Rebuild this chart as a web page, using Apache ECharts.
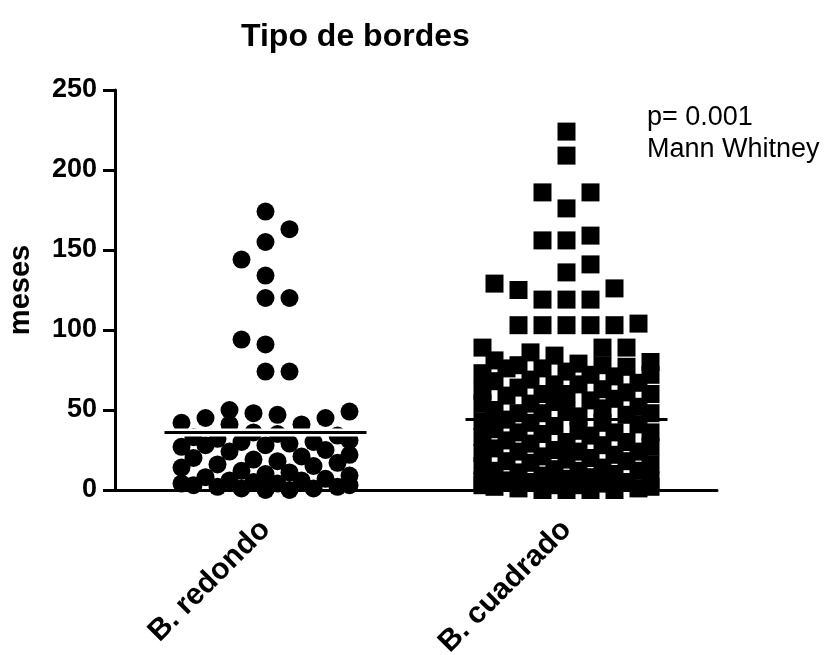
<!DOCTYPE html>
<html><head><meta charset="utf-8">
<script src="https://cdn.jsdelivr.net/npm/echarts@6/dist/echarts.min.js"></script>
<style>html,body{margin:0;padding:0;background:#fff}#c{width:830px;height:655px}</style>
</head><body><div id="c"></div>
<script>
// ---- data ----
const categories = ['B. redondo', 'B. cuadrado'];
const yTicks = [0, 50, 100, 150, 200, 250];
const redondo = [174, 163, 155, 144, 134, 120, 120, 94, 91, 74, 74,
  50, 49, 48, 47, 45, 45, 42, 41, 41,
  36, 35, 34, 33, 32, 31, 30, 30, 29, 28, 28, 27,
  25, 24, 22, 21, 20, 19, 18, 17, 16, 15, 14,
  12, 11, 10, 9, 8, 7, 6, 6, 5, 4, 4, 3, 3, 2, 2, 1, 1, 0, 0];
const cuadrado = [224, 209, 186, 186, 176, 159, 156, 156, 141, 136, 129, 126, 125, 119, 119, 119,
  104, 103, 103, 103, 103, 103, 89, 89, 89, 86, 84,
  81, 80, 79, 78, 78, 77, 76, 76,
  74, 73, 72, 72, 71, 69, 68, 67, 66, 66, 64, 63, 62, 61, 60, 60, 60, 59, 57, 56, 55, 54, 54,
  52, 51, 50, 49, 48, 48, 48, 47, 46, 44, 43, 42, 42, 41, 40, 38, 37, 36, 36, 36, 35, 34,
  33, 31, 30, 30, 29, 28, 27, 26, 25, 24, 24, 24, 23, 22, 21, 20, 19, 18, 18, 17,
  16, 15, 14, 13, 12, 12, 12, 11, 10, 9, 8, 7, 6, 6, 6, 5, 5, 4, 3, 3, 3, 2, 2, 1, 1, 0, 0, 0, 0];
const centralLines = [36, 44];
const titleText = 'Tipo de bordes';
const yName = 'meses';
const noteLines = ['p= 0.001', 'Mann Whitney'];

// ---- layout ----
const W = 830, H = 655;
const GRID = { left: 115, right: 113, top: 90, bottom: 165 };
const gw = W - GRID.left - GRID.right, gh = H - GRID.top - GRID.bottom;
const yMin = 0, yMax = 250;
const pxPerY = gh / (yMax - yMin);
const pxPerX = gw / 2;          // hidden value x axis spans -0.5 .. 1.5
const SYM = 18, STEP = 24, MAXOFF = 3.5, HALF_LINE = 101;

// Column-scatter layout: place each point at the free horizontal slot nearest the centre
function swarm(values) {
  const sorted = values.slice().sort((a, b) => a - b);
  const placed = [];
  const cands = [0];
  for (let k = 0.5; k <= MAXOFF; k += 0.5) cands.push(k, -k);
  let flip = false;
  sorted.forEach(v => {
    let best = 0, bestCost = Infinity;
    const order = flip ? cands.map(c => -c) : cands;
    for (const c of order) {
      let cost = 0;
      for (const p of placed) {
        const dx = Math.abs(c - p.o) * STEP, dy = Math.abs(v - p.v) * pxPerY;
        if (dx < SYM && dy < SYM) cost += (SYM - dx) * (SYM - dy);
      }
      if (cost < bestCost - 1e-9) { best = c; bestCost = cost; }
    }
    if (best !== 0) flip = !flip;
    placed.push({ v, o: best });
  });
  return placed;
}
function toData(values, idx) {
  return swarm(values).map(p => [idx + p.o * STEP / pxPerX, p.v]);
}
function lineData(idx) {
  const h = HALF_LINE / pxPerX;
  return [[idx - h, centralLines[idx]], [idx + h, centralLines[idx]]];
}

const font = 'Liberation Sans, Arial, sans-serif';
const chart = echarts.init(document.getElementById('c'), null, { renderer: 'canvas' });
chart.setOption({
  animation: false,
  backgroundColor: '#fff',
  title: { text: titleText, left: 236, top: 16,
    textStyle: { fontFamily: font, fontWeight: 'bold', fontSize: 32, color: '#000' } },
  grid: Object.assign({ containLabel: false, outerBoundsMode: 'none' }, GRID),
  xAxis: [
    { type: 'category', data: categories, position: 'bottom',
      axisLine: { onZero: false, lineStyle: { color: '#000', width: 3 } },
      axisTick: { show: false },
      axisLabel: { rotate: 45, margin: 35, color: '#000', fontFamily: font, fontWeight: 'bold', fontSize: 30 },
      splitLine: { show: false } },
    { type: 'value', min: -0.5, max: 1.5, show: false }
  ],
  yAxis: {
    type: 'value', min: yTicks[0], max: yTicks[yTicks.length - 1], interval: yTicks[1] - yTicks[0],
    name: yName, nameLocation: 'middle', nameGap: 80, nameRotate: 90,
    nameTextStyle: { fontFamily: font, fontWeight: 'bold', fontSize: 29, color: '#000' },
    axisLine: { show: true, onZero: false, lineStyle: { color: '#000', width: 3 } },
    axisTick: { show: true, length: 12, lineStyle: { color: '#000', width: 3 } },
    axisLabel: { margin: 18, color: '#000', fontFamily: font, fontWeight: 'bold', fontSize: 27 },
    splitLine: { show: false }
  },
  graphic: [{ type: 'text', left: 647, top: 102,
    style: { text: noteLines.join('\n'), font: '27px ' + font, fill: '#000', lineHeight: 32 } }],
  series: [
    { type: 'line', xAxisIndex: 1, data: lineData(1), symbol: 'none', silent: true, z: 1,
      lineStyle: { color: '#000', width: 3 } },
    { type: 'scatter', name: categories[0], xAxisIndex: 1, data: toData(redondo, 0), symbol: 'circle',
      symbolSize: SYM, itemStyle: { color: '#000', opacity: 1 }, z: 3 },
    { type: 'scatter', name: categories[1], xAxisIndex: 1, data: toData(cuadrado, 1), symbol: 'rect',
      symbolSize: SYM, itemStyle: { color: '#000', opacity: 1 }, z: 3 },
    { type: 'line', xAxisIndex: 1, data: lineData(0), symbol: 'none', silent: true, z: 4,
      lineStyle: { color: '#fff', width: 8 } },
    { type: 'line', xAxisIndex: 1, data: lineData(0), symbol: 'none', silent: true, z: 5,
      lineStyle: { color: '#000', width: 3 } }
  ]
});
</script></body></html>
